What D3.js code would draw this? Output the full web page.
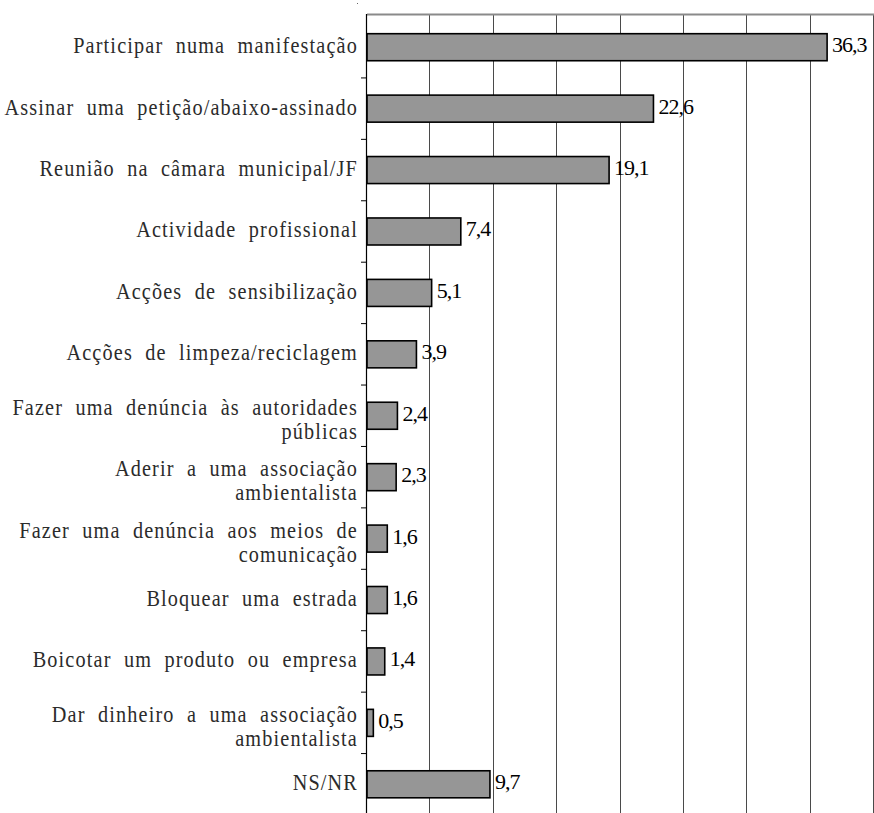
<!DOCTYPE html>
<html>
<head>
<meta charset="utf-8">
<script src="https://cdn.jsdelivr.net/npm/d3@7"></script>
<style>
  body { margin: 0; background: #fff; }
  svg { display: block; }
</style>
</head>
<body>
<script>
// chart data
const categories = [
  ["Participar numa manifestação"],
  ["Assinar uma petição/abaixo-assinado"],
  ["Reunião na câmara municipal/JF"],
  ["Actividade profissional"],
  ["Acções de sensibilização"],
  ["Acções de limpeza/reciclagem"],
  ["Fazer uma denúncia às autoridades", "públicas"],
  ["Aderir a uma associação", "ambientalista"],
  ["Fazer uma denúncia aos meios de", "comunicação"],
  ["Bloquear uma estrada"],
  ["Boicotar um produto ou empresa"],
  ["Dar dinheiro a uma associação", "ambientalista"],
  ["NS/NR"]
];
const values = [36.3, 22.6, 19.1, 7.4, 5.1, 3.9, 2.4, 2.3, 1.6, 1.6, 1.4, 0.5, 9.7];
const gridTicks = [5, 10, 15, 20, 25, 30, 35, 40];

const W = 874, H = 813;
const FONT = '"Liberation Serif"';
const svg = d3.select("body").append("svg").attr("width", W).attr("height", H);

const x = d3.scaleLinear().domain([0, 40]).range([367, 874]);
const y = d3.scaleBand().domain(d3.range(categories.length))
  .range([16.5, 815]).paddingInner(0.56).paddingOuter(0.28);

const fmt = v => String(v).replace(".", ",");

// gridlines
svg.append("g").selectAll("line").data(gridTicks).join("line")
  .attr("x1", d => Math.round(x(d)) - 0.5).attr("x2", d => Math.round(x(d)) - 0.5)
  .attr("y1", 14).attr("y2", H)
  .attr("stroke", "#4a4a4a").attr("stroke-width", 1);

// top border
svg.append("line")
  .attr("x1", x(0)).attr("x2", W).attr("y1", 14.5).attr("y2", 14.5)
  .attr("stroke", "#8a8a8a").attr("stroke-width", 2);

svg.append("rect").attr("x", 357).attr("y", 3).attr("width", 1).attr("height", 1).attr("fill", "#666");

// bars
svg.append("g").selectAll("rect").data(values).join("rect")
  .attr("x", x(0))
  .attr("y", (d, i) => y(i))
  .attr("width", d => x(d) - x(0))
  .attr("height", y.bandwidth())
  .attr("fill", "#969696")
  .attr("stroke", "#000")
  .attr("stroke-width", 1.6);

// axis line + ticks between categories
const step = y.step();
const ax = svg.append("g");
ax.append("line")
  .attr("x1", x(0) - 0.5).attr("x2", x(0) - 0.5).attr("y1", 14).attr("y2", H)
  .attr("stroke", "#000").attr("stroke-width", 1.2);
ax.selectAll("line.tick").data(d3.range(1, categories.length)).join("line")
  .attr("class", "tick")
  .attr("x1", x(0) - 6).attr("x2", x(0))
  .attr("y1", i => y(i) - (step - y.bandwidth()) / 2)
  .attr("y2", i => y(i) - (step - y.bandwidth()) / 2)
  .attr("stroke", "#000").attr("stroke-width", 1);

// category labels (condensed serif, spaced out)
const lab = svg.append("g");
categories.forEach((lines, i) => {
  const c = y(i) + y.bandwidth() / 2;
  const base = lines.length === 1 ? c + 6 : c - 1;
  const t = lab.append("text")
    .attr("transform", `translate(358,${base}) scale(0.88,1)`)
    .attr("text-anchor", "end")
    .attr("fill", "#2b2b2b")
    .style("font-family", FONT)
    .style("font-size", "23px")
    .style("letter-spacing", "1.3px")
    .style("word-spacing", "7px");
  lines.forEach((s, k) => {
    t.append("tspan").attr("x", 0).attr("y", k * 24).text(s);
  });
});

// value labels
svg.append("g").selectAll("text").data(values).join("text")
  .attr("x", d => x(d) + 5)
  .attr("y", (d, i) => y(i) + y.bandwidth() / 2 + 5)
  .attr("fill", "#000")
  .style("font-family", FONT)
  .style("font-size", "22px")
  .style("letter-spacing", "-1px")
  .text(fmt);
</script>
</body>
</html>
